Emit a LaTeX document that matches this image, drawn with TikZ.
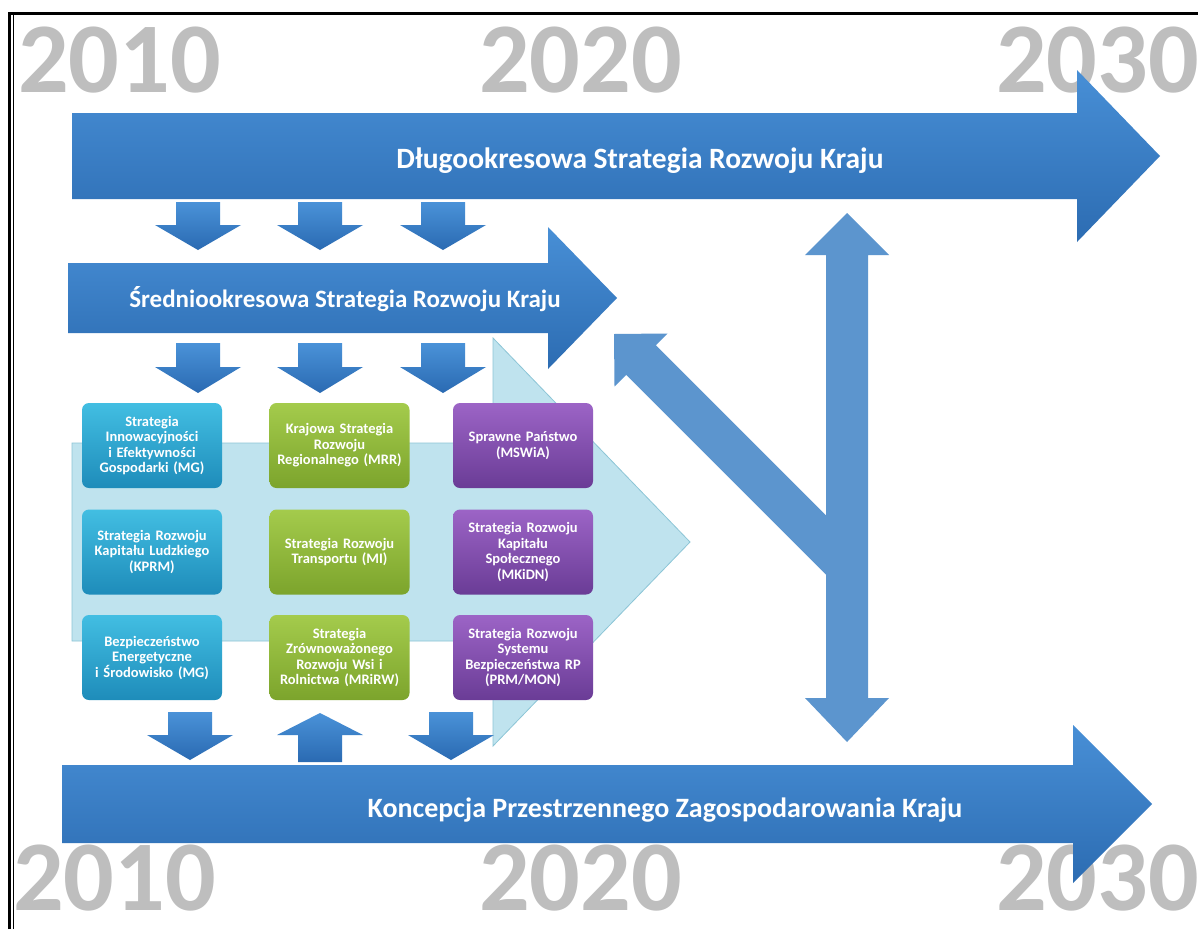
\documentclass[tikz,border=0pt]{standalone}
\usepackage{fontspec}
\setmainfont{Carlito}
\definecolor{yeargray}{RGB}{190,190,190}
\definecolor{bigT}{RGB}{72,143,214}
\definecolor{bigB}{RGB}{44,108,178}
\definecolor{smT}{RGB}{74,146,216}
\definecolor{smB}{RGB}{42,106,178}
\definecolor{flatblue}{RGB}{92,149,206}
\definecolor{lbfill}{RGB}{191,227,238}
\definecolor{lbdraw}{RGB}{140,197,214}
\definecolor{cyT}{RGB}{66,190,226}
\definecolor{cyB}{RGB}{30,140,186}
\definecolor{grT}{RGB}{164,203,76}
\definecolor{grB}{RGB}{124,164,44}
\definecolor{puT}{RGB}{156,100,198}
\definecolor{puB}{RGB}{106,60,150}
\newcommand\smallArr[4]{%
  \shade[top color=smT,bottom color=smB]
    ({#1-22},#2) -- ({#1+22},#2) -- ({#1+22},#3) -- ({#1+43},#3) -- (#1,#4)
    -- ({#1-43},#3) -- ({#1-22},#3) -- cycle;}
\tikzset{
  yr/.style={text=yeargray,font=\fontsize{100}{100}\selectfont\bfseries,anchor=base west,inner sep=0pt},
  bigtxt/.style={text=white,font=\fontsize{29.5}{31}\selectfont\bfseries,anchor=base,inner sep=0pt},
  midtxt/.style={text=white,font=\fontsize{25}{26}\selectfont\bfseries,anchor=base,inner sep=0pt},
  bx/.style={rounded corners=7pt,minimum width=140pt,minimum height=85pt,text width=138pt,
    align=center,text=white,font=\fontsize{14.5}{15.5}\selectfont\bfseries,inner sep=1pt},
  cyanbox/.style={bx,top color=cyT,bottom color=cyB},
  greenbox/.style={bx,top color=grT,bottom color=grB},
  purplebox/.style={bx,top color=puT,bottom color=puB},
}
\begin{document}
\begin{tikzpicture}[x=1pt,y=-1pt]
\useasboundingbox (0,0) rectangle (1198,929);
\fill[white] (0,0) rectangle (1198,929);
% frame
\draw[line width=3pt] (9.5,929) -- (9.5,13.5) -- (1198,13.5);
\draw[line width=1pt] (13,929) -- (13,15);
% years
\node[yr] (y10t) at (18,92) {2010};
\node[yr] (y20t) at (479,92) {2020};
\node[yr] (y30t) at (996,92) {2030};
\node[yr] (y10b) at (13,910) {2010};
\node[yr] (y20b) at (479,910) {2020};
\node[yr] (y30b) at (996,910) {2030};
% light blue background arrow
\draw[fill=lbfill,draw=lbdraw,line width=0.8pt]
  (72,443) -- (493,443) -- (493,338) -- (690,542) -- (493,746) -- (493,641) -- (72,641) -- cycle;
% top arrow
\shade[top color=bigT,bottom color=bigB]
  (72,113) -- (1077,113) -- (1077,70) -- (1160,156) -- (1077,242) -- (1077,199) -- (72,199) -- cycle;
\node[bigtxt] (dlugo) at (640,168) {Długookresowa Strategia Rozwoju Kraju};
% small arrows under top arrow
\smallArr{198}{202}{225}{250}
\smallArr{320}{202}{225}{250}
\smallArr{443}{202}{225}{250}
% middle arrow
\shade[top color=bigT,bottom color=bigB]
  (68,263) -- (548,263) -- (548,227) -- (617,298) -- (548,369) -- (548,333) -- (68,333) -- cycle;
\node[midtxt] (srednio) at (345,307) {Średniookresowa Strategia Rozwoju Kraju};
% small arrows under middle arrow
\smallArr{198}{343}{367}{393}
\smallArr{320}{343}{367}{393}
\smallArr{443}{343}{367}{393}
% boxes
\node[cyanbox] (c11) at (152,445.5) {Strategia\\Innowacyjności\\i Efektywności\\Gospodarki (MG)};
\node[cyanbox] (c12) at (152,552) {Strategia Rozwoju\\Kapitału Ludzkiego\\(KPRM)};
\node[cyanbox] (c13) at (152,657.5) {Bezpieczeństwo\\Energetyczne\\i Środowisko (MG)};
\node[greenbox] (g11) at (339.5,445.5) {Krajowa Strategia\\Rozwoju\\Regionalnego (MRR)};
\node[greenbox] (g12) at (339.5,552) {Strategia Rozwoju\\Transportu (MI)};
\node[greenbox] (g13) at (339.5,657.5) {Strategia\\Zrównoważonego\\Rozwoju Wsi i\\Rolnictwa (MRiRW)};
\node[purplebox] (p11) at (523,445.5) {Sprawne Państwo\\(MSWiA)};
\node[purplebox] (p12) at (523,552) {Strategia Rozwoju\\Kapitału\\Społecznego\\(MKiDN)};
\node[purplebox] (p13) at (523,657.5) {Strategia Rozwoju\\Systemu\\Bezpieczeństwa RP\\(PRM/MON)};
% small arrows above bottom arrow
\smallArr{190}{712}{735}{760}
\smallArr{320}{762}{735}{713}
\smallArr{451}{712}{735}{760}
% bottom arrow
\shade[top color=bigT,bottom color=bigB]
  (62,765) -- (1073,765) -- (1073,725) -- (1152,804) -- (1073,883) -- (1073,843) -- (62,843) -- cycle;
\node[bigtxt,font=\fontsize{28}{30}\selectfont\bfseries] (koncepcja) at (665,817) {Koncepcja Przestrzennego Zagospodarowania Kraju};
% right side arrows
\fill[flatblue] (614,334) -- (667.5,333.5) -- (655.85,345.15) -- (847,536.3) -- (847,595.7)
  -- (626.15,374.85) -- (614.5,386.5) -- cycle;
\fill[flatblue] (847,213) -- (889,255) -- (868,255) -- (868,698) -- (889,698) -- (847,742)
  -- (805,698) -- (826,698) -- (826,255) -- (805,255) -- cycle;
\end{tikzpicture}
\end{document}
